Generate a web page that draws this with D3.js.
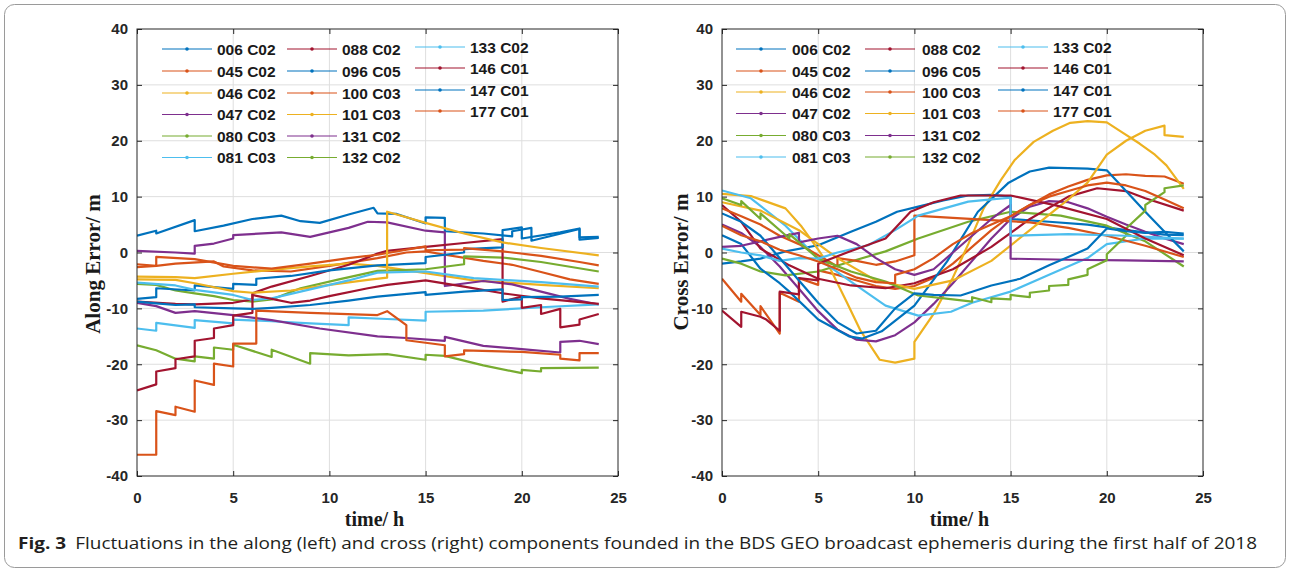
<!DOCTYPE html>
<html><head><meta charset="utf-8">
<script src="https://cdn.jsdelivr.net/npm/d3@7"></script>
<style>body{margin:0;background:#fff}svg{display:block}</style>
</head><body>
<svg id="c" width="1290" height="573"></svg>
<script>
// ---------- data ----------
const seriesNames = ["006 C02","045 C02","046 C02","047 C02","080 C03","081 C03","088 C02","096 C05","100 C03","101 C03","131 C02","132 C02","133 C02","146 C01","147 C01","177 C01"];
const palette = ["#0072BD","#D95319","#EDB120","#7E2F8E","#77AC30","#4DBEEE","#A2142F"];
const xTicks = [0,5,10,15,20,25];
const yTicks = [-40,-30,-20,-10,0,10,20,30,40];
const xLabel = "time/ h";
const yLabelAlong = "Along Error/ m";
const yLabelCross = "Cross Error/ m";
const captionBold = "Fig. 3";
const caption = "Fluctuations in the along (left) and cross (right) components founded in the BDS GEO broadcast ephemeris during the first half of 2018";

// along component [time h, error m]
const along006 = [[0,3],[1,3.9],[1,3.4],[3,5.8],[3,3.8],[4.5,4.8],[6,6],[7.5,6.6],[8.5,5.6],[9.5,5.3],[11,6.8],[12.3,8],[12.5,7],[13.5,6.9],[15,5.2],[15,6.3],[16,6.2],[16,3.8],[18,3.4],[19.5,2.9],[19.5,3.8],[20.5,4.4],[20.5,2.1],[23,4.2],[23,2.3],[24,2.6]];
const along045 = [[0,-2.6],[1,-2.4],[2,-2],[4,-1.6],[4.5,-2.5],[6,-3.2],[8,-3.4],[10,-2.4],[12.5,-1],[14,0],[15,0.2],[16,-0.4],[18,-1.5],[19.5,-2.2],[21,-3.5],[22.5,-4.8],[24,-5.6]];
const along046 = [[0,-4.3],[2,-4.4],[3,-4.6],[5,-3.8],[7,-3.1],[9,-2.5],[11,-2],[12.5,-2.4],[15,-3.7],[17.5,-5],[21,-5.8],[24,-6.4]];
const along047 = [[0,0.3],[2,0],[3,-0.2],[3,1.2],[4,1.6],[5,2.5],[5,3.1],[7.5,3.6],[9,2.8],[10,3.6],[11,4.4],[12,5.5],[13,5.4],[15,3.9],[16,3.6],[16,-6],[18,-5.1],[19.5,-5.7],[21,-7],[22.5,-8.3],[24,-9.3]];
const along080 = [[0,-5.6],[1,-5.8],[2,-6.8],[3,-7.3],[4,-7.8],[5,-8.5],[6,-8.8],[7,-8.4],[8.5,-6.4],[10.5,-4.8],[12.5,-3.3],[15,-3],[17,-2.1],[17,-0.7],[19,-0.9],[21,-1.7],[24,-3.4]];
const along081 = [[0,-13.6],[1,-14],[1,-12.6],[3,-13.5],[3,-12.1],[5,-12.7],[5,-12],[7,-12.3],[9,-12.7],[11,-13],[11,-11.6],[13,-11.9],[15,-12.2],[15,-10.6],[18,-10.4],[21,-9.8],[24,-9.3]];
const along088 = [[0,-8.8],[2,-9.2],[3,-9.3],[5,-9],[6,-8.4],[6,-7.3],[7,-6.1],[9,-4.2],[11,-2.2],[12.5,-0.2],[13,0.3],[15,1],[17,1.7],[19,2.4],[19,-8.8],[20,-7.9],[20,-9.9],[21,-9.4],[21,-11],[22,-10.1],[22,-13.4],[23,-12.9],[23,-12],[24,-11]];
const along096 = [[0,-8.3],[1,-8],[1,-6.4],[3,-6.8],[3,-5.9],[5,-6.5],[5,-5.6],[6.2,-5.8],[6.2,-4.7],[8,-4.2],[10,-3.2],[12.5,-2.3],[15,-1.9],[15,-0.8],[17,0],[17,0.6],[19,0.9],[19,4],[20,4.5],[20,2.5],[22,3.6],[23,4.3],[23,2.7],[24,2.8]];
const along100 = [[0,-2.1],[1,-2.4],[1,-0.8],[3,-1.2],[5,-2.4],[7,-2.9],[9,-2],[11,-1],[12.5,-0.4],[15,1.1],[15,0.4],[17,0.5],[17,0.8],[19,0.2],[21,-0.6],[23,-1.7],[24,-2.3]];
const along101 = [[0,-4.8],[2,-4.9],[3,-5.5],[5,-6.9],[6,-7.2],[8,-6.8],[10,-5.8],[12,-4.9],[13,-4.5],[13,7.3],[14,6.3],[15,5.3],[17,3.4],[19,1.8],[21,0.8],[24,-0.5]];
const along131 = [[0,-9],[1,-9.6],[2,-10.8],[3,-10.5],[5,-11.2],[7,-12.1],[9.5,-13.6],[12.5,-15],[14,-15.3],[16,-15.8],[16,-15.1],[18,-16.7],[20,-17.3],[22,-17.9],[22,-16],[23,-15.8],[24,-16.4]];
const along132 = [[0,-16.6],[1,-17.5],[2,-19],[3,-19.5],[3,-18.6],[4,-19],[4,-17],[5,-17.4],[5,-16.5],[7,-18.7],[7,-17.4],[9,-19.9],[9,-18],[11,-18.4],[13,-18.2],[15,-19.2],[15,-18.3],[16,-18.5],[18,-20.2],[20,-21.6],[20,-21],[21,-21.3],[21,-20.7],[24,-20.6]];
const along133 = [[0,-5.4],[2,-5.9],[3,-6.7],[5,-7.6],[6,-8.5],[7,-8.2],[9,-6.6],[11,-5],[12.5,-3.6],[15,-3.4],[17.5,-4.6],[21,-5.3],[24,-6.1]];
const along146 = [[0,-24.7],[1,-23.6],[1,-21.3],[2,-20.7],[2,-19.1],[3,-18.6],[3,-15.8],[4,-15.3],[4,-13.6],[5,-13],[5,-11.3],[6,-10.8],[6,-7.6],[7,-8.3],[8,-9],[9,-8.6],[10,-7.8],[12,-6.4],[13,-5.8],[15,-5],[17,-6.1],[19,-7.3],[21,-8.2],[24,-9.2]];
const along147 = [[0,-8.8],[1,-9.1],[2,-9.4],[3,-9.3],[3,-9.8],[5,-10],[6,-10.1],[7,-9.9],[9,-9.4],[11,-8.6],[12.5,-7.9],[15,-7.1],[15,-7.6],[17,-7],[19,-6.6],[19,-8.5],[20,-8.4],[20,-8],[22,-7.9],[24,-7.6]];
const along177 = [[0,-36.2],[1,-36.2],[1,-28.4],[2,-29.1],[2,-27.6],[3,-28.5],[3,-22.9],[4,-23.7],[4,-19.9],[5,-20.4],[5,-16.3],[6.2,-16.3],[6.2,-10.4],[9,-10.8],[12.5,-11.2],[13,-10.5],[14,-13],[14,-15.7],[16,-16.6],[16,-18.6],[17,-18.2],[17,-17.5],[20,-17.8],[22,-18.3],[22,-19],[23,-19.3],[23,-18],[24,-18]];

// cross component [time h, error m]
const cross006 = [[0,-2],[1,-1.6],[2,-1.1],[3.3,0.2],[5,1.3],[6.7,3.7],[8,5.5],[9.1,7.3],[10.2,8.2],[11.5,9.3],[12.8,10.2],[14,10.3],[15,10],[15,6],[17,5.5],[19,5],[21,4],[23,3.2],[24,3.1]];
const cross045 = [[0,-4.7],[1,-8.8],[1,-7.4],[2,-11.2],[2,-9.6],[3,-14.5],[3,-7.2],[4,-8.8],[4,-4.6],[5,-5.8],[5,-3.2],[6,-4],[7,-5],[8,-6],[9,-6.5],[10,-6],[11,-4.5],[12,-2],[13,1],[14,4],[15,6.5],[16,8.5],[17,10.4],[18,11.8],[19,13],[20,13.8],[21,14],[22,13.7],[23,13.6],[24,12.3]];
const cross046 = [[0,10.5],[1.5,10.1],[3.3,7.9],[4.1,4.8],[5,0.5],[5.5,-2],[6.5,-9],[7.2,-14],[8.2,-19.2],[9,-19.7],[10,-19],[10,-16],[11,-11],[12,-4.5],[12.8,1.5],[13.6,7.9],[14.5,13],[15.2,16.5],[16.2,19.8],[17.2,21.8],[18.1,23.2],[19,23.5],[20,23.3],[20.8,21.5],[21.7,19.5],[22.5,17.5],[23.1,15.6],[24,11.4]];
const cross047 = [[0,5],[1,3.5],[2,1],[3,-2.5],[4,-6.5],[5,-10.5],[6,-13.8],[7,-15.6],[8,-15.9],[9,-14.8],[10,-12.5],[11,-9.2],[12,-5.5],[13,-1.5],[14,2.5],[15,6],[16,8.2],[17,9.2],[18,9],[19,7.9],[20,6.4],[21,5],[22,3.7],[23,2.5],[24,1.5]];
const cross080 = [[0,-1.1],[1,-2],[2,-3.4],[3.3,-4.1],[5,-3.4],[6.7,-1.6],[8.5,0.2],[10.2,2.5],[12.8,5.5],[15,7.3],[17.6,6.6],[20,4.8],[22,2],[24,-2.5]];
const cross081 = [[0,11.1],[1.5,9.7],[3.3,4.8],[5,-1.1],[6.7,-5.2],[8.5,-9.5],[10.2,-11.3],[11.9,-10.6],[13,-9],[15,-7],[17,-4],[19,-1],[20,1.5],[22,2.5],[24,2.5]];
const cross088 = [[0,8.5],[1,5.5],[2,0.7],[3.5,-2.3],[5,-4.7],[6.7,-5.9],[8.5,-6.4],[10,-5.5],[12,-3],[14,1],[16,6],[18,10],[19.5,11.5],[21,11],[22,9.7],[24,7.5]];
const cross096 = [[0,3.1],[1,1.5],[2,-2.9],[3,-5.5],[3.5,-7],[5,-12],[6.6,-15],[7.3,-15.4],[8.3,-14.1],[10,-9.5],[11.7,-1.6],[13.3,7.3],[14.9,12.5],[16,14.5],[17,15.2],[18,15.1],[19,15],[20,14.7],[21,11],[22,7.3],[23,3.7],[24,0.2]];
const cross100 = [[0,7.9],[1,6.5],[2,5],[3,3],[4,1.5],[5,-0.5],[6,-2.5],[6,-1],[7,-1.5],[8,-2.2],[9,-1.6],[10,-0.5],[10,6.6],[12,6.2],[14,5.8],[16,5.4],[18,4.4],[20,3],[22,1.2],[24,-0.8]];
const cross101 = [[0,9],[2,7.5],[4,4],[6,-1],[8,-5],[10,-6.5],[12,-5],[14,-1.5],[16,4],[18,9.5],[19,12.5],[20,17.5],[21,20],[22,21.8],[23,22.7],[23,21],[24,20.7]];
const cross131 = [[0,1],[1,1.2],[2,2],[3,2.8],[4,3.5],[4,1.8],[5,2.5],[6,3],[7,1.5],[8,-1],[9,-3],[10,-4],[11,-3],[12,0],[13,3],[14,6],[15,8.5],[15,-1.1],[18,-1.3],[21,-1.4],[24,-1.6]];
const cross132 = [[0,9.7],[1,8.5],[1,9.2],[2,6],[2,7],[3.5,2.5],[3.5,3.3],[5,-1.1],[6.7,-3.4],[8.5,-5.2],[10.2,-7.7],[12,-8.4],[13,-8.8],[13,-8],[14,-8.9],[14,-8.2],[15,-8.4],[15,-7.6],[16,-8],[16,-7.2],[17,-6.8],[17,-6],[18,-5.8],[18,-4.8],[19,-4],[19,-3],[20,-1.4],[20,-0.3],[21,3],[21,4.3],[22,7.5],[22,8.5],[23,10.8],[23,11.5],[24,12]];
const cross133 = [[0,0.7],[1,0],[2,-0.5],[3,-1.5],[4,-1],[5,-1.1],[6,0],[7.6,1.3],[9,4],[10.2,6.6],[12.8,9.1],[14,9.5],[15,9.8],[15,3],[18,3.3],[21,3],[24,2.5]];
const cross146 = [[0,-10.4],[1,-13.3],[1,-10.6],[2,-11.5],[2.3,-12],[3,-14],[3,-7],[4,-7.5],[4,-4.6],[5,-5],[5,-2],[6.5,0],[8.5,2.5],[9.8,7.3],[11,9],[12.4,10.2],[15,10.2],[17.4,8.4],[20,6],[22,2.5],[24,-0.5]];
const cross147 = [[0,7],[1,5.5],[2,3],[3,-1],[4,-5],[5,-9],[6,-12.5],[7,-14.5],[8,-14],[9,-10],[10,-7.3],[11,-7.6],[12.4,-7.7],[14,-5.9],[15.5,-4.7],[17,-2.3],[19,0.7],[20,4.3],[21,3.8],[22,3.5],[23,3.7],[24,3.4]];
const cross177 = [[0,4.8],[1,3.1],[2,2],[3,0.5],[4,-0.5],[5,-1.6],[6,-3],[7,-4.5],[8,-5.3],[9,-5.5],[9,-4],[10,-3],[11,-1],[12,1.5],[13,3.5],[14,5],[15,6.5],[16,8.5],[17,10],[18,11],[19,12],[20,12.5],[21,12],[22,11],[23,9.5],[24,7.9]];

const alongSeries = [along006,along045,along046,along047,along080,along081,along088,along096,along100,along101,along131,along132,along133,along146,along147,along177];
const crossSeries = [cross006,cross045,cross046,cross047,cross080,cross081,cross088,cross096,cross100,cross101,cross131,cross132,cross133,cross146,cross147,cross177];

// ---------- drawing ----------
const svg = d3.select("#c");
const AX = "#262626";
svg.append("rect").attr("x",4.5).attr("y",4.5).attr("width",1281).attr("height",563)
  .attr("rx",10).attr("fill","none").attr("stroke","#9a9a9a").attr("stroke-width",1);

const panels = [
  {left:137, right:618, top:29, bottom:476, data:alongSeries, ylab:yLabelAlong, ylabX:93, ylabY:264,
   leg:{lineX:[25,150,278], textX:[80,205,333], rowY:[[49,71,93,114.5,136,157.5],[49,71,93,114.5,136,157.5],[47,68,90,111]]}},
  {left:722, right:1203, top:29, bottom:476, data:crossSeries, ylab:yLabelCross, ylabX:681, ylabY:262,
   leg:{lineX:[14,143,276], textX:[70,200,331], rowY:[[49,71,92,113.5,135.5,157],[49,71,92,113.5,135.5,157],[47,68,90,111]]}}
];

panels.forEach(p => {
  const x = d3.scaleLinear().domain([0,25]).range([p.left,p.right]);
  const y = d3.scaleLinear().domain([-40,40]).range([p.bottom,p.top]);
  const g = svg.append("g");
  // grid
  g.append("g").selectAll("line").data(xTicks.slice(1,-1)).join("line")
    .attr("x1",d=>x(d)).attr("x2",d=>x(d)).attr("y1",p.top).attr("y2",p.bottom)
    .attr("stroke","#dedede").attr("stroke-width",1);
  g.append("g").selectAll("line").data(yTicks.slice(1,-1)).join("line")
    .attr("y1",d=>y(d)).attr("y2",d=>y(d)).attr("x1",p.left).attr("x2",p.right)
    .attr("stroke","#dedede").attr("stroke-width",1);
  // axes
  const styleAxis = sel => {
    sel.select(".domain").remove();
    sel.selectAll(".tick line").attr("stroke",AX);
    sel.selectAll(".tick text").attr("fill",AX).style("font-family","Arial, 'Liberation Sans', sans-serif")
      .style("font-size","15px").style("font-weight","bold");
  };
  const fmt = d => String(d);
  g.append("g").attr("transform",`translate(${p.left},0)`)
    .call(d3.axisLeft(y).tickValues(yTicks).tickFormat(fmt).tickSizeInner(-5).tickSizeOuter(0).tickPadding(9)).call(styleAxis);
  g.append("g").attr("transform",`translate(0,${p.bottom})`)
    .call(d3.axisBottom(x).tickValues(xTicks).tickFormat(fmt).tickSizeInner(-5).tickSizeOuter(0).tickPadding(16)).call(styleAxis);
  g.append("g").attr("transform",`translate(${p.right},0)`)
    .call(d3.axisRight(y).tickValues(yTicks).tickSizeInner(-5).tickSizeOuter(0).tickFormat("")).call(styleAxis);
  g.append("g").attr("transform",`translate(0,${p.top})`)
    .call(d3.axisTop(x).tickValues(xTicks).tickSizeInner(-5).tickSizeOuter(0).tickFormat("")).call(styleAxis);
  // data lines
  const line = d3.line().x(d=>x(d[0])).y(d=>y(d[1]));
  const clipId = "clip"+p.left;
  svg.append("clipPath").attr("id",clipId).append("rect")
    .attr("x",p.left).attr("y",p.top).attr("width",p.right-p.left).attr("height",p.bottom-p.top);
  g.append("g").attr("clip-path",`url(#${clipId})`).selectAll("path").data(p.data).join("path")
    .attr("d",line).attr("fill","none").attr("stroke",(d,i)=>palette[i%7])
    .attr("stroke-width",2.2).attr("stroke-linejoin","round");
  // box
  g.append("rect").attr("x",p.left).attr("y",p.top).attr("width",p.right-p.left).attr("height",p.bottom-p.top)
    .attr("fill","none").attr("stroke",AX).attr("stroke-width",1);
  // legend
  seriesNames.forEach((name,i) => {
    const col = Math.floor(i/6), row = i%6;
    const ly = p.leg.rowY[col][row];
    const lx = p.left + p.leg.lineX[col];
    g.append("line").attr("x1",lx).attr("x2",lx+50).attr("y1",ly).attr("y2",ly)
      .attr("stroke",palette[i%7]).attr("stroke-width",1.2);
    g.append("circle").attr("cx",lx+25).attr("cy",ly).attr("r",1.8).attr("fill",palette[i%7]);
    g.append("text").attr("x",p.left+p.leg.textX[col]).attr("y",ly).attr("dy","0.36em")
      .attr("fill","#1a1a1a").style("font-family","Arial, 'Liberation Sans', sans-serif")
      .style("font-size","15.5px").style("font-weight","bold").text(name);
  });
  // axis labels
  g.append("text").attr("transform",`translate(${p.ylabX},${p.ylabY}) rotate(-90)`).attr("dy","0.35em")
    .attr("text-anchor","middle").attr("fill","#1a1a1a")
    .style("font-family","'Liberation Serif','Times New Roman',serif").style("font-size","21px").style("font-weight","bold")
    .text(p.ylab);
  g.append("text").attr("x",(p.left+p.right)/2-3).attr("y",519).attr("dy","0.35em")
    .attr("text-anchor","middle").attr("fill","#1a1a1a")
    .style("font-family","'Liberation Serif','Times New Roman',serif").style("font-size","20px").style("font-weight","bold")
    .text(xLabel);
});

// caption
const cap = svg.append("text").attr("x",18).attr("y",549).attr("fill","#231f20")
  .style("font-family","'Open Sans','Noto Sans',sans-serif").style("font-size","16.5px");
cap.append("tspan").style("font-weight","bold").text(captionBold);
cap.append("tspan").attr("dx",8).text(caption);
cap.attr("textLength",1239).attr("lengthAdjust","spacingAndGlyphs");
</script>
</body></html>
